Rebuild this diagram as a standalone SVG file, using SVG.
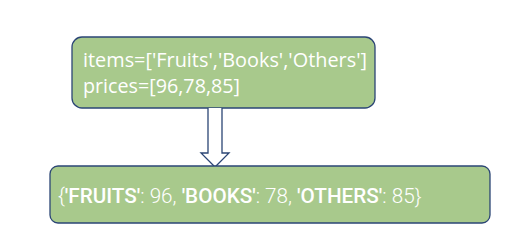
<svg xmlns="http://www.w3.org/2000/svg" width="520" height="248" viewBox="0 0 520 248">
  <style>
    .box { fill: #a8c98c; stroke: #2b4575; stroke-width: 1.3; }
    .code { fill: #ffffff; font-family: "Open Sans", "Liberation Sans", sans-serif; font-size: 19.5px; font-weight: 500; }
    .out { fill: #ffffff; font-family: Roboto, "Liberation Sans", sans-serif; font-size: 20.7px; font-weight: 300; }
    .key { font-weight: 500; }
    .arrow { fill: #ffffff; stroke: #2b4575; stroke-width: 1.3; stroke-linejoin: miter; }
  </style>
  <rect width="520" height="248" fill="#ffffff"/>

  <!-- input lists -->
  <g id="input">
    <rect class="box" x="72" y="37" width="303" height="71" rx="10" ry="10"/>
    <text class="code" x="83" y="67" textLength="284" lengthAdjust="spacingAndGlyphs">items=['Fruits','Books','Others']</text>
    <text class="code" x="83" y="93" textLength="157" lengthAdjust="spacingAndGlyphs">prices=[96,78,85]</text>
  </g>

  <!-- hollow block arrow -->
  <g id="connectors">
    <path class="arrow" d="M208,108 L208,153 L201,153 L215,167 L229,153 L222,153 L222,108"/>
  </g>

  <!-- resulting dictionary, keys in bold -->
  <g id="output">
    <rect class="box" x="50" y="166" width="440" height="57" rx="8" ry="8"/>
    <text class="out" x="58" y="203">{<tspan class="key">'FRUITS'</tspan>: 96, <tspan class="key">'BOOKS'</tspan>: 78, <tspan class="key">'OTHERS'</tspan>: 85}</text>
  </g>
</svg>
